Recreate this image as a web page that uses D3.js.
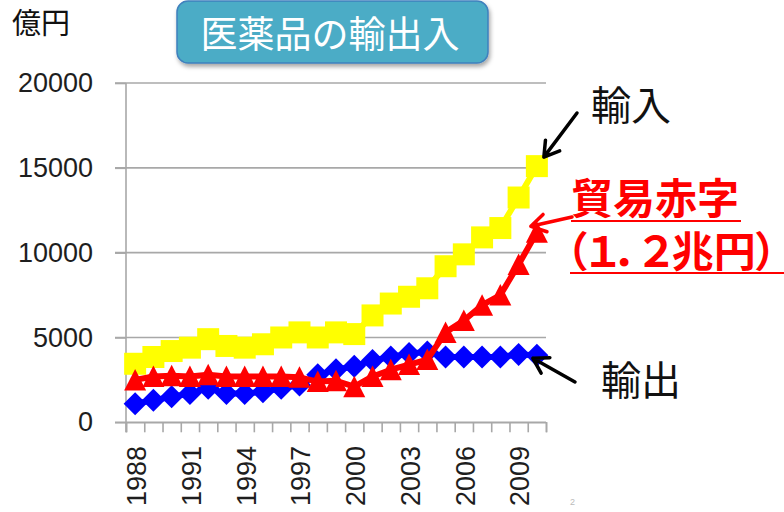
<!DOCTYPE html>
<html>
<head>
<meta charset="utf-8">
<script src="https://cdn.jsdelivr.net/npm/d3@7"></script>
<style>
  html, body { margin: 0; padding: 0; background: #fff; }
  svg { display: block; }
  .jp  { font-family: "Noto Sans CJK JP", "Noto Sans", sans-serif; }
  .num { font-family: "Liberation Sans", Arial, sans-serif; }
</style>
</head>
<body>
<svg id="chart" width="784" height="512"></svg>
<script>
// Pharmaceutical trade of Japan, 100 million yen (億円)
const years = [1988, 1989, 1990, 1991, 1992, 1993, 1994, 1995, 1996, 1997, 1998, 1999,
               2000, 2001, 2002, 2003, 2004, 2005, 2006, 2007, 2008, 2009, 2010];
const yearLabels = [1988, 1991, 1994, 1997, 2000, 2003, 2006, 2009];
const imports = [3450, 3850, 4200, 4400, 4900, 4500, 4400, 4600, 5000, 5300, 5000, 5300,
                 5200, 6300, 7000, 7400, 7900, 9200, 9900, 10900, 11450, 13250, 15100];
const exports = [1100, 1300, 1500, 1700, 2000, 1700, 1700, 1800, 2000, 2200, 2800, 3100,
                 3300, 3650, 3850, 4050, 4150, 3850, 3850, 3850, 3850, 4000, 3950];
const deficit = [2500, 2700, 2750, 2700, 2800, 2700, 2700, 2700, 2700, 2650, 2400, 2450,
                 2100, 2700, 3100, 3400, 3700, 5300, 6000, 6900, 7500, 9300, 11200];
const yTicks = [0, 5000, 10000, 15000, 20000];

const svg = d3.select("#chart");
const plotLeft = 126, plotRight = 546, plotTop = 83, plotBottom = 422.3;

const x = d3.scaleBand().domain(years).range([plotLeft, plotRight]).paddingInner(0).paddingOuter(0);
const xEdge = d3.scaleLinear().domain([0, years.length]).range([plotLeft, plotRight]);
const y = d3.scaleLinear().domain([0, 20000]).range([plotBottom, plotTop]);
const cx = d => x(d) + x.bandwidth() / 2;

const defs = svg.append("defs");
const shadow = defs.append("filter").attr("id", "boxShadow")
  .attr("x", "-10%").attr("y", "-10%").attr("width", "130%").attr("height", "150%");
shadow.append("feDropShadow").attr("dx", 1.5).attr("dy", 3).attr("stdDeviation", 2)
  .attr("flood-color", "#000").attr("flood-opacity", 0.35);

// horizontal gridlines
svg.append("g").selectAll("line").data(yTicks).join("line")
  .attr("x1", plotLeft - 11).attr("x2", plotRight)
  .attr("y1", d => y(d)).attr("y2", d => y(d))
  .attr("stroke", "#a8a8a8").attr("stroke-width", 1.6);

// y axis
const yAxis = svg.append("g").attr("transform", `translate(${plotLeft},0)`)
  .call(d3.axisLeft(y).tickValues(yTicks).tickSize(11).tickPadding(22).tickFormat(d3.format("d")));
yAxis.select(".domain").remove();
yAxis.selectAll(".tick line").attr("stroke", "#a8a8a8").attr("stroke-width", 1.6);
yAxis.selectAll("text").attr("class", "num").attr("font-size", 27).attr("fill", "#1e1e1e");
svg.append("line").attr("x1", plotLeft).attr("x2", plotLeft).attr("y1", plotTop).attr("y2", plotBottom + 10)
  .attr("stroke", "#a8a8a8").attr("stroke-width", 1.6);

// x axis: boundary ticks
const xTicks = svg.append("g").attr("transform", `translate(0,${plotBottom})`)
  .call(d3.axisBottom(xEdge).tickValues(d3.range(years.length + 1)).tickSize(10).tickFormat(""));
xTicks.select(".domain").attr("stroke", "#a8a8a8").attr("stroke-width", 1.6);
xTicks.selectAll(".tick line").attr("stroke", "#a8a8a8").attr("stroke-width", 1.6);

// x axis: rotated year labels
svg.append("g").selectAll("text").data(yearLabels).join("text")
  .attr("class", "num")
  .attr("transform", d => `translate(${cx(d)},446) rotate(-90)`)
  .attr("text-anchor", "end").attr("dy", "0.4em")
  .attr("font-size", 27).attr("fill", "#1e1e1e")
  .text(d => d);

// series
const line = d3.line().x((d, i) => cx(years[i])).y(d => y(d));
const series = [
  { name: "輸入", values: imports, color: "#ffff00", shape: "square" },
  { name: "輸出", values: exports, color: "#0000ff", shape: "diamond" },
  { name: "貿易赤字", values: deficit, color: "#ff0000", shape: "triangle" }
];
const shapes = {
  square: "M-11,-11H11V11H-11Z",
  diamond: "M0,-11.5L11.5,0L0,11.5L-11.5,0Z",
  triangle: "M0,-11L11,10.5L-11,10.5Z"
};
series.forEach(s => {
  const g = svg.append("g");
  g.append("path").datum(s.values).attr("d", line)
    .attr("fill", "none").attr("stroke", s.color).attr("stroke-width", 6)
    .attr("stroke-linejoin", "round");
  g.selectAll("path.m").data(s.values).join("path").attr("class", "m")
    .attr("transform", (d, i) => `translate(${cx(years[i])},${y(d)})`)
    .attr("d", shapes[s.shape]).attr("fill", s.color);
});

// title box
svg.append("rect").attr("x", 177).attr("y", 1).attr("width", 311).attr("height", 62).attr("rx", 11)
  .attr("fill", "#4bacc6").attr("stroke", "#3f80bd").attr("stroke-width", 1.5)
  .attr("filter", "url(#boxShadow)");
svg.append("text").attr("class", "jp").attr("x", 330).attr("y", 32)
  .attr("text-anchor", "middle").attr("dominant-baseline", "central")
  .attr("font-size", 37).attr("fill", "#fff").text("医薬品の輸出入");

// unit label
svg.append("text").attr("class", "jp").attr("x", 12).attr("y", 34)
  .attr("font-size", 29).attr("fill", "#111").text("億円");

// annotation arrows
function arrow(x1, y1, x2, y2, color) {
  const a = Math.atan2(y2 - y1, x2 - x1), len = 17, spread = 0.55;
  const p = d3.path();
  p.moveTo(x1, y1); p.lineTo(x2, y2);
  p.moveTo(x2 - len * Math.cos(a - spread), y2 - len * Math.sin(a - spread));
  p.lineTo(x2, y2);
  p.lineTo(x2 - len * Math.cos(a + spread), y2 - len * Math.sin(a + spread));
  svg.append("path").attr("d", p.toString()).attr("fill", "none")
    .attr("stroke", color).attr("stroke-width", 3.5)
    .attr("stroke-linecap", "round").attr("stroke-linejoin", "round");
}
const lastYear = years[years.length - 1];
const n = years.length - 1;
arrow(577, 113, cx(lastYear) + 7, y(imports[n]) - 9, "#000");
arrow(572, 217, cx(lastYear) - 6, y(deficit[n]) - 6, "#ff0000");
arrow(575, 382, cx(lastYear) - 4, y(exports[n]) + 3, "#000");

// annotation labels
svg.append("text").attr("class", "jp").attr("x", 591).attr("y", 120)
  .attr("font-size", 40).attr("fill", "#111").text("輸入");
svg.append("text").attr("class", "jp").attr("x", 601).attr("y", 395)
  .attr("font-size", 40).attr("fill", "#111").text("輸出");

// two-line deficit label, underlined
const deficitLabel = svg.append("text").attr("class", "jp")
  .attr("font-size", 42).attr("font-weight", 700).attr("fill", "#ff0000")
  .style("font-feature-settings", "'palt'");
deficitLabel.append("tspan").attr("x", 571).attr("y", 214)
  .style("font-feature-settings", "normal").text("貿易赤字");
deficitLabel.append("tspan").attr("x", 566).attr("y", 267).text("（１．２兆円）");
svg.append("line").attr("x1", 571).attr("x2", 741).attr("y1", 221).attr("y2", 221)
  .attr("stroke", "#ff0000").attr("stroke-width", 2.2);
svg.append("line").attr("x1", 570).attr("x2", 784).attr("y1", 273).attr("y2", 273)
  .attr("stroke", "#ff0000").attr("stroke-width", 2.2);

// page number
svg.append("text").attr("class", "num").attr("x", 570).attr("y", 505)
  .attr("font-size", 9).attr("fill", "#bbb").text("2");
</script>
</body>
</html>
